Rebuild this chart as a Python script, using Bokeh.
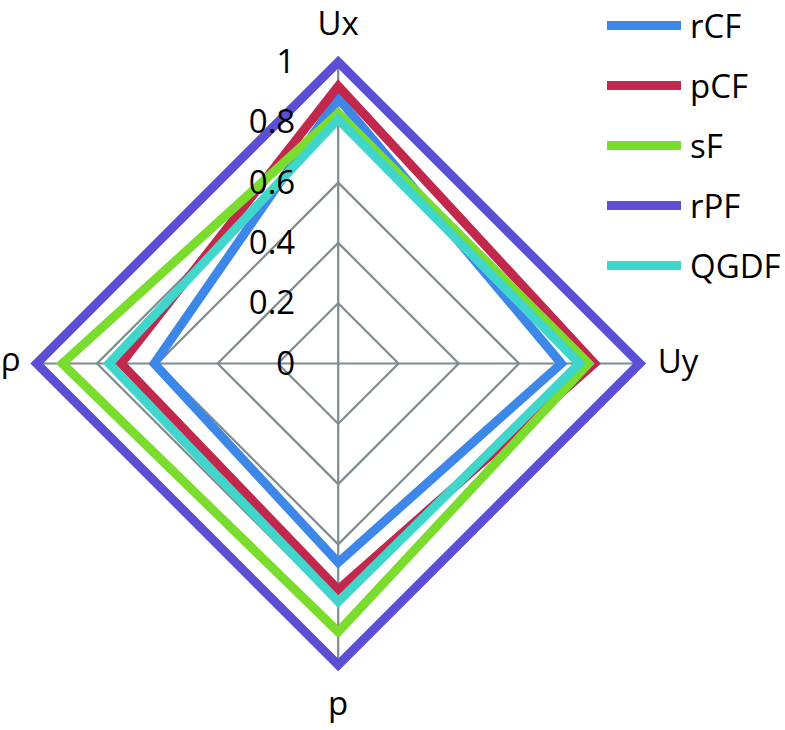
import numpy as np
from bokeh.plotting import figure
from bokeh.models import Range1d, Legend, LegendItem
from bokeh.core.properties import value
from bokeh.embed import file_html
from bokeh.resources import INLINE

# ---- data ----
axes_labels = ["Ux", "Uy", "p", "ρ"]
series_names = ["rCF", "pCF", "sF", "rPF", "QGDF"]
rCF = [0.88, 0.74, 0.66, 0.61]
pCF = [0.92, 0.85, 0.75, 0.72]
sF = [0.83, 0.83, 0.89, 0.915]
rPF = [1.0, 1.0, 1.0, 1.0]
QGDF = [0.81, 0.80, 0.79, 0.76]
series_values = [rCF, pCF, sF, rPF, QGDF]
colors = ["#3C87E8", "#C1284C", "#7ADC2C", "#5D4FD3", "#41D6CB"]
ticks = [0, 0.2, 0.4, 0.6, 0.8, 1.0]
tick_labels = ["0", "0.2", "0.4", "0.6", "0.8", "1"]

FONT = "Open Sans"
FS = "33px"

W, H = 784, 728
scale = 301.5
cx, cy = 337.7, 363.0
x0 = -cx / scale
y1 = cy / scale
xr = Range1d(x0, x0 + W / scale)
yr = Range1d(y1 - H / scale, y1)

p = figure(width=W, height=H, x_range=xr, y_range=yr, output_backend="svg",
           toolbar_location=None, x_axis_location=None, y_axis_location=None,
           min_border=0, outline_line_color=None)
p.grid.visible = False
p.background_fill_color = "white"

angles = np.array([0, 90, 180, 270]) * np.pi / 180.0
sx, sy = np.sin(angles), np.cos(angles)

def path(vals):
    v = np.asarray(vals, dtype=float)
    xs = v * sx
    ys = v * sy
    # wrap around past the start so every corner gets a mitred join
    xs = np.concatenate([xs, xs[:2]])
    ys = np.concatenate([ys, ys[:2]])
    return xs, ys

grid_col = "#7F8C8D"
for t in ticks[1:]:
    gx, gy = path([t] * 4)
    p.line(gx, gy, line_color=grid_col, line_width=2.2, line_join="miter")
for a in range(4):
    p.line([0, sx[a]], [0, sy[a]], line_color=grid_col, line_width=2.2)

renderers = []
for name, vals, col in zip(series_names, series_values, colors):
    xs, ys = path(vals)
    r = p.line(xs, ys, line_color=col, line_width=9, line_join="miter", line_cap="round")
    renderers.append((name, r))

p.text(x=[0] * len(ticks), y=ticks, text=tick_labels, text_align="right",
       text_baseline="alphabetic", x_offset=-43, y_offset=-1,
       text_font=value(FONT), text_font_size=FS, text_color="black")

p.text(x=[0], y=[1], text=[axes_labels[0]], text_align="center", text_baseline="alphabetic",
       y_offset=-40, text_font=value(FONT), text_font_size=FS, text_color="black")
p.text(x=[1], y=[0], text=[axes_labels[1]], text_align="left", text_baseline="alphabetic",
       x_offset=18, y_offset=-3, text_font=value(FONT), text_font_size=FS, text_color="black")
p.text(x=[0], y=[-1], text=[axes_labels[2]], text_align="center", text_baseline="alphabetic",
       y_offset=37, text_font=value(FONT), text_font_size=FS, text_color="black")
p.text(x=[-1], y=[0], text=[axes_labels[3]], text_align="right", text_baseline="alphabetic",
       x_offset=-16, y_offset=-5, text_font=value(FONT), text_font_size=FS, text_color="black")

legend = Legend(items=[LegendItem(label=n, renderers=[r]) for n, r in renderers],
                location=(607, H - 287.5), orientation="vertical",
                glyph_width=74, glyph_height=40, label_height=40, spacing=15,
                label_standoff=9, padding=0, margin=0,
                border_line_color=None, background_fill_alpha=0,
                label_text_font=FONT, label_text_font_size=FS, label_text_color="black")
p.add_layout(legend)

open("out.html", "w").write(file_html(p, INLINE))
